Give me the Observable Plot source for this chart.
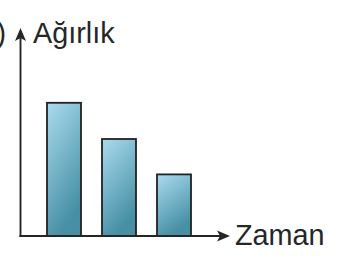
<!DOCTYPE html>
<html><head><meta charset="utf-8">
<script src="https://cdn.jsdelivr.net/npm/d3@7"></script>
<script src="https://cdn.jsdelivr.net/npm/@observablehq/plot@0.6"></script>
<style>html,body{margin:0;padding:0;background:#fff}svg{display:block}</style>
</head><body><div id="chart"></div>
<script>
const categories = ["1", "2", "3"];
const weights = [66.6, 48.5, 30.8];
const yLabel = "Ağırlık";
const xLabel = "Zaman";
const cutLabel = ")";

const data = categories.map((c, i) => ({c, w: weights[i]}));
const font = "'Liberation Sans', Arial, sans-serif";
const ink = "#262626";

function axes(index, scales, values, dims) {
  const g = d3.create("svg:g");
  const defs = g.append("defs");
  const grad = defs.append("linearGradient").attr("id", "barGrad")
    .attr("x1", 0).attr("y1", 0).attr("x2", 0.4).attr("y2", 1);
  grad.append("stop").attr("offset", "0%").attr("stop-color", "#aadbef");
  grad.append("stop").attr("offset", "100%").attr("stop-color", "#468fa4");

  const x0 = dims.marginLeft + 0.5;
  const y0 = dims.height - dims.marginBottom;
  const yTop = scales.y(104);
  const xEnd = dims.width - dims.marginRight + 12;

  g.append("line").attr("x1", x0).attr("x2", x0).attr("y1", y0 + 1).attr("y2", yTop + 8)
    .attr("stroke", ink).attr("stroke-width", 1.9);
  g.append("line").attr("x1", x0 - 1).attr("x2", xEnd - 8).attr("y1", y0).attr("y2", y0)
    .attr("stroke", ink).attr("stroke-width", 1.9);
  // arrowheads
  g.append("path").attr("fill", ink)
    .attr("d", `M${x0},${yTop} L${x0 + 5.5},${yTop + 13} L${x0},${yTop + 10} L${x0 - 5.5},${yTop + 13} Z`);
  g.append("path").attr("fill", ink)
    .attr("d", `M${xEnd},${y0} L${xEnd - 13},${y0 - 5.5} L${xEnd - 10},${y0} L${xEnd - 13},${y0 + 5.5} Z`);

  const t = g.append("g").attr("font-family", font).attr("font-size", 28.8)
    .attr("fill", ink).attr("text-anchor", "start");
  t.append("text").attr("x", x0 + 12.5).attr("y", scales.y(96.5)).text(yLabel);
  t.append("text").attr("x", xEnd + 5).attr("y", y0 + 9).text(xLabel);
  t.append("text").attr("x", -3.5).attr("y", scales.y(96.5)).text(cutLabel);
  return g.node();
}

const chart = Plot.plot({
  width: 356,
  height: 261,
  marginLeft: 20,
  marginRight: 138,
  marginTop: 36,
  marginBottom: 25,
  style: {background: "#fff", overflow: "visible"},
  x: {domain: categories, paddingInner: 0.38, paddingOuter: 0.49, axis: null},
  y: {domain: [0, 100], axis: null},
  marks: [
    Plot.barY(data, {x: "c", y: "w", fill: "url(#barGrad)", stroke: "#222", strokeWidth: 1.8}),
    axes
  ]
});
document.getElementById("chart").appendChild(chart);
</script>
</body></html>
